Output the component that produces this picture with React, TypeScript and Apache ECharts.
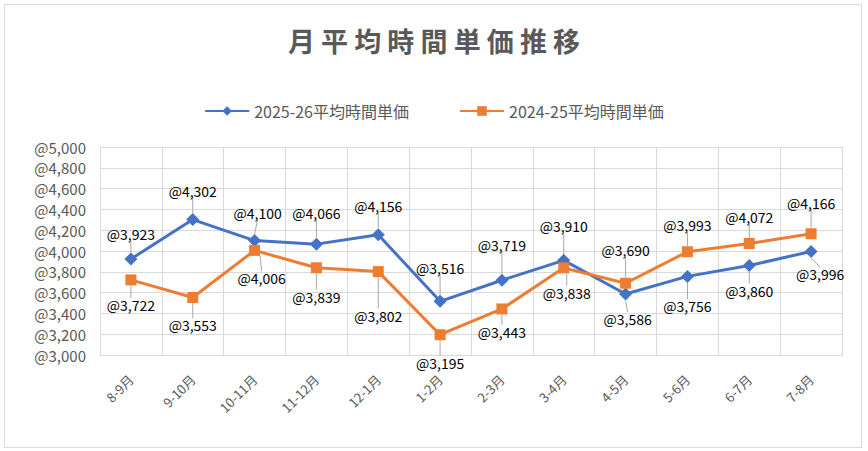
import React, { useEffect, useRef } from "react";
import * as echarts from "echarts";

const categories = ["8-9月", "9-10月", "10-11月", "11-12月", "12-1月", "1-2月", "2-3月", "3-4月", "4-5月", "5-6月", "6-7月", "7-8月"];
const seriesA = [3923, 4302, 4100, 4066, 4156, 3516, 3719, 3910, 3586, 3756, 3860, 3996];
const seriesB = [3722, 3553, 4006, 3839, 3802, 3195, 3443, 3838, 3690, 3993, 4072, 4166];
const offA = [[0, -25], [0, -29], [3, -28], [0, -31], [0, -29], [0, -33], [0, -35], [0, -34], [2, 25], [0, 30], [0, 25], [9, 23]];
const offB = [[0, 25], [0, 28], [7, 28], [0, 29], [0, 44], [0, 28], [0, 23], [3, 25], [0, -33], [0, -27], [0, -27], [0, -31]];

const fmt = (v: number) => "@" + v.toLocaleString("en-US");
const FONT = "'Noto Sans CJK JP', 'Noto Sans', sans-serif";

export default function App() {
  const ref = useRef<HTMLDivElement>(null);
  useEffect(() => {
    const chart = echarts.init(ref.current!, null, { renderer: "svg" });
    const mk = (name: string, data: number[], color: string, symbol: string, size: number, off: number[][]) => ({
      name, type: "line", data, symbol, symbolSize: size,
      itemStyle: { color }, lineStyle: { color, width: 3 },
      label: { show: true, position: "inside", formatter: (p: any) => fmt(p.value), color: "#000", fontSize: 14, fontFamily: FONT },
      labelLine: { show: true, lineStyle: { color: "#a6a6a6", width: 1 } },
      labelLayout: (p: any) => ({ dx: off[p.dataIndex][0], dy: off[p.dataIndex][1] }),
    });
    chart.setOption({
      animation: false,
      textStyle: { fontFamily: FONT },
      title: { text: "月 平 均 時 間 単 価 推 移", left: "center", top: 22, textStyle: { fontSize: 27, fontWeight: "bold", color: "#595959", fontFamily: FONT } },
      legend: { top: 98, itemGap: 50, itemWidth: 44, itemHeight: 12, textStyle: { fontSize: 16, color: "#595959", fontFamily: FONT } },
      grid: { left: 100, right: 26, top: 147, bottom: 96 },
      xAxis: {
        type: "category", data: categories, boundaryGap: true,
        axisLine: { lineStyle: { color: "#d9d9d9" } }, axisTick: { show: false },
        axisLabel: { rotate: 45, color: "#595959", fontSize: 13, interval: 0, margin: 22 },
        splitLine: { show: true, interval: 0, lineStyle: { color: "#d9d9d9" } },
      },
      yAxis: {
        type: "value", min: 3000, max: 5000, interval: 200,
        axisLabel: { formatter: fmt, color: "#595959", fontSize: 15, margin: 14 },
        splitLine: { lineStyle: { color: "#d9d9d9" } },
      },
      series: [
        mk("2025-26平均時間単価", seriesA, "#4472C4", "diamond", 13, offA),
        mk("2024-25平均時間単価", seriesB, "#ED7D31", "rect", 11, offB),
      ],
    });
    return () => chart.dispose();
  }, []);
  return (
    <div style={{ position: "absolute", left: 0, top: 0, width: 868, height: 451 }}>
      <div style={{ position: "absolute", left: 4, top: 4, width: 856, height: 442, border: "1px solid #d9d9d9" }} />
      <div ref={ref} style={{ position: "absolute", left: 0, top: 0, width: 868, height: 451 }} />
    </div>
  );
}
